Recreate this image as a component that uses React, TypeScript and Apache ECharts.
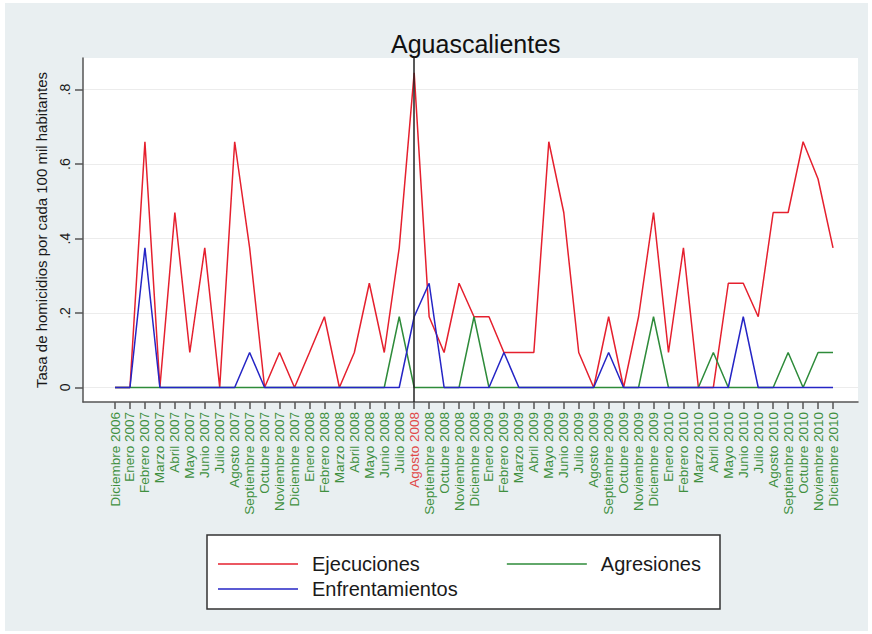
import React, { useEffect, useRef } from 'react';
import * as echarts from 'echarts';

const months = [
  'Diciembre 2006',
  'Enero 2007', 'Febrero 2007', 'Marzo 2007', 'Abril 2007', 'Mayo 2007', 'Junio 2007',
  'Julio 2007', 'Agosto 2007', 'Septiembre 2007', 'Octubre 2007', 'Noviembre 2007', 'Diciembre 2007',
  'Enero 2008', 'Febrero 2008', 'Marzo 2008', 'Abril 2008', 'Mayo 2008', 'Junio 2008',
  'Julio 2008', 'Agosto 2008', 'Septiembre 2008', 'Octubre 2008', 'Noviembre 2008', 'Diciembre 2008',
  'Enero 2009', 'Febrero 2009', 'Marzo 2009', 'Abril 2009', 'Mayo 2009', 'Junio 2009',
  'Julio 2009', 'Agosto 2009', 'Septiembre 2009', 'Octubre 2009', 'Noviembre 2009', 'Diciembre 2009',
  'Enero 2010', 'Febrero 2010', 'Marzo 2010', 'Abril 2010', 'Mayo 2010', 'Junio 2010',
  'Julio 2010', 'Agosto 2010', 'Septiembre 2010', 'Octubre 2010', 'Noviembre 2010', 'Diciembre 2010',
];

const ejecuciones = [
  0,
  0, 0.66, 0, 0.47, 0.094, 0.375,
  0, 0.66, 0.375, 0, 0.094, 0,
  0.094, 0.19, 0, 0.094, 0.28, 0.094,
  0.375, 0.845, 0.19, 0.094, 0.28, 0.19,
  0.19, 0.094, 0.094, 0.094, 0.66, 0.47,
  0.094, 0, 0.19, 0, 0.19, 0.47,
  0.094, 0.375, 0, 0, 0.28, 0.28,
  0.19, 0.47, 0.47, 0.66, 0.56, 0.375,
];

const agresiones = [
  0,
  0, 0, 0, 0, 0, 0,
  0, 0, 0, 0, 0, 0,
  0, 0, 0, 0, 0, 0,
  0.19, 0, 0, 0, 0, 0.19,
  0, 0, 0, 0, 0, 0,
  0, 0, 0, 0, 0, 0.19,
  0, 0, 0, 0.094, 0, 0,
  0, 0, 0.094, 0, 0.094, 0.094,
];

const enfrentamientos = [
  0,
  0, 0.375, 0, 0, 0, 0,
  0, 0, 0.094, 0, 0, 0,
  0, 0, 0, 0, 0, 0,
  0, 0.19, 0.28, 0, 0, 0,
  0, 0.094, 0, 0, 0, 0,
  0, 0, 0.094, 0, 0, 0,
  0, 0, 0, 0, 0, 0.19,
  0, 0, 0, 0, 0, 0,
];

const yTickValues = [0, 0.2, 0.4, 0.6, 0.8];
const yTickLabels = ['0', '.2', '.4', '.6', '.8'];
const eventMonth = 'Agosto 2008';

const FONT = '"Liberation Sans", Arial, Helvetica, sans-serif';

export default function App() {
  const ref = useRef<HTMLDivElement>(null);

  useEffect(() => {
    if (!ref.current) return;
    const chart = echarts.init(ref.current, null, { renderer: 'svg' });
    const eventIndex = months.indexOf(eventMonth);
    const idx = months.map((_, i) => i);
    const toPairs = (arr: number[]) => arr.map((v, i) => [i, v]);

    const legendText = { fontFamily: FONT, fontSize: 20, color: '#1a1a1a', padding: [0, 0, 0, 9] };

    const option: any = {
      animation: false,
      backgroundColor: '#ffffff',
      textStyle: { fontFamily: FONT },
      graphic: [
        {
          type: 'rect',
          z: -10,
          silent: true,
          shape: { x: 5, y: 3, width: 863, height: 628 },
          style: { fill: '#e9eff1' },
        },
        {
          type: 'rect',
          z: -5,
          silent: true,
          shape: { x: 207, y: 535, width: 513, height: 74 },
          style: { fill: '#ffffff', stroke: '#333333', lineWidth: 1.5 },
        },
      ],
      title: {
        text: 'Aguascalientes',
        left: 386,
        top: 26,
        textStyle: { fontFamily: FONT, fontSize: 25, fontWeight: 'normal', color: '#111111' },
      },
      legend: [
        {
          data: ['Ejecuciones', 'Agresiones'],
          left: 213,
          top: 549,
          icon: 'rect',
          itemWidth: 80,
          itemHeight: 1.6,
          itemGap: 87,
          textStyle: legendText,
        },
        {
          data: ['Enfrentamientos'],
          left: 213,
          top: 574,
          icon: 'rect',
          itemWidth: 80,
          itemHeight: 1.6,
          textStyle: legendText,
        },
      ],
      grid: {
        left: 83,
        right: 14,
        top: 58,
        bottom: 232,
        show: true,
        backgroundColor: '#ffffff',
        borderWidth: 0,
      },
      xAxis: {
        type: 'value',
        min: -2.14,
        max: 49.67,
        splitLine: { show: false },
        axisLine: { show: true, onZero: false, lineStyle: { color: '#555555', width: 1.5 } },
        axisTick: {
          show: true,
          customValues: idx,
          length: 7,
          lineStyle: { color: '#555555', width: 1.5 },
        },
        axisLabel: {
          customValues: idx,
          rotate: 90,
          margin: 10,
          fontFamily: FONT,
          fontSize: 13.5,
          color: '#3f8f3f',
          formatter: (v: number) => {
            const name = months[Math.round(v)] ?? '';
            return Math.round(v) === eventIndex ? '{ev|' + name + '}' : name;
          },
          rich: {
            ev: { color: '#e04848', fontFamily: FONT, fontSize: 13.5 },
          },
        },
      },
      yAxis: {
        type: 'value',
        min: -0.039,
        max: 0.885,
        name: 'Tasa de homicidios por cada 100 mil habitantes',
        nameLocation: 'middle',
        nameRotate: 90,
        nameGap: 34,
        nameTextStyle: { fontFamily: FONT, fontSize: 15, color: '#1a1a1a' },
        axisLine: { show: true, onZero: false, lineStyle: { color: '#555555', width: 1.5 } },
        axisTick: {
          show: true,
          customValues: yTickValues,
          length: 8,
          lineStyle: { color: '#555555', width: 1.5 },
        },
        axisLabel: {
          customValues: yTickValues,
          rotate: 90,
          margin: 11,
          fontFamily: FONT,
          fontSize: 14,
          color: '#1a1a1a',
          formatter: (v: number) => {
            const k = yTickValues.findIndex((t) => Math.abs(t - v) < 1e-6);
            return k >= 0 ? yTickLabels[k] : '';
          },
        },
        splitLine: { show: true, lineStyle: { color: '#ececec', width: 1.2 } },
      },
      series: [
        {
          name: 'Ejecuciones',
          type: 'line',
          data: toPairs(ejecuciones),
          symbol: 'none',
          lineStyle: { color: '#e5202e', width: 1.5 },
          itemStyle: { color: '#e5202e' },
        },
        {
          name: 'Agresiones',
          type: 'line',
          data: toPairs(agresiones),
          symbol: 'none',
          lineStyle: { color: '#2e8b3a', width: 1.5 },
          itemStyle: { color: '#2e8b3a' },
        },
        {
          name: 'Enfrentamientos',
          type: 'line',
          data: toPairs(enfrentamientos),
          symbol: 'none',
          lineStyle: { color: '#2525c5', width: 1.5 },
          itemStyle: { color: '#2525c5' },
          markLine: {
            silent: true,
            symbol: 'none',
            label: { show: false },
            lineStyle: { color: '#222222', width: 1.5, type: 'solid' },
            data: [{ xAxis: eventIndex }],
          },
        },
      ],
    };

    chart.setOption(option);
    return () => chart.dispose();
  }, []);

  return (
    <div style={{ position: 'fixed', left: 0, top: 0, width: 872, height: 634, background: '#ffffff' }}>
      <div ref={ref} style={{ width: 872, height: 634 }} />
    </div>
  );
}
